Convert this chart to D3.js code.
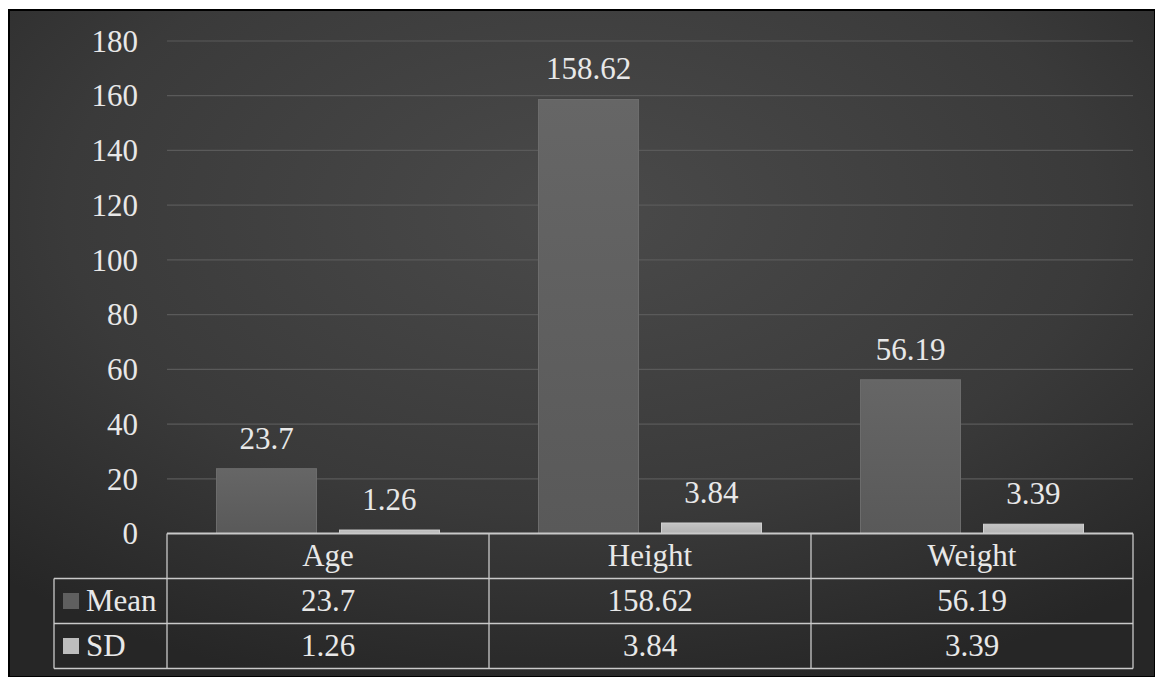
<!DOCTYPE html>
<html>
<head>
<meta charset="utf-8">
<script src="https://cdn.jsdelivr.net/npm/d3@7"></script>
<style>
  html, body { margin: 0; padding: 0; background: #ffffff; }
  svg { display: block; }
  text { font-family: "Liberation Serif", "Times New Roman", serif; }
</style>
</head>
<body>
<svg id="chart" width="1155" height="677"></svg>
<script>
// ---- data ----
const categories = ["Age", "Height", "Weight"];
const seriesNames = ["Mean", "SD"];
const meanValues = [23.7, 158.62, 56.19];
const sdValues = [1.26, 3.84, 3.39];
const yTicks = [0, 20, 40, 60, 80, 100, 120, 140, 160, 180];

const seriesValues = [meanValues, sdValues];

const W = 1155, H = 677;
const svg = d3.select("#chart");
const defs = svg.append("defs");

// background gradient
const bg = defs.append("radialGradient").attr("id", "bgGrad")
  .attr("cx", "50%").attr("cy", "30%").attr("r", "75%");
bg.append("stop").attr("offset", "0%").attr("stop-color", "#4a4a4a");
bg.append("stop").attr("offset", "60%").attr("stop-color", "#3a3a3a");
bg.append("stop").attr("offset", "100%").attr("stop-color", "#262626");

const meanGrad = defs.append("linearGradient").attr("id", "meanGrad")
  .attr("x1", 0).attr("y1", 0).attr("x2", 0).attr("y2", 1);
meanGrad.append("stop").attr("offset", "0%").attr("stop-color", "#666666");
meanGrad.append("stop").attr("offset", "100%").attr("stop-color", "#595959");

const sdGrad = defs.append("linearGradient").attr("id", "sdGrad")
  .attr("x1", 0).attr("y1", 0).attr("x2", 0).attr("y2", 1);
sdGrad.append("stop").attr("offset", "0%").attr("stop-color", "#c4c4c4");
sdGrad.append("stop").attr("offset", "100%").attr("stop-color", "#b2b2b2");

const barFills = ["url(#meanGrad)", "url(#sdGrad)"];
const swatchFills = ["#5f5f5f", "#bdbdbd"];

// frame
svg.append("rect").attr("x", 9).attr("y", 10).attr("width", W - 9).attr("height", H - 10)
  .attr("fill", "url(#bgGrad)").attr("stroke", "#000").attr("stroke-width", 2);

// scales
const x0 = d3.scaleBand().domain(categories).range([167, 1133]).padding(0);
const x1 = d3.scaleBand().domain(seriesNames).range([0, x0.bandwidth()])
  .paddingInner(0.187).paddingOuter(0.4025);
const y = d3.scaleLinear().domain([0, 180]).range([533.5, 41]);

const textColor = "#e8e8e8";
const fontSize = 31;

// gridlines
svg.append("g").selectAll("line").data(yTicks.filter(t => t > 0)).join("line")
  .attr("x1", 167).attr("x2", 1133)
  .attr("y1", d => y(d)).attr("y2", d => y(d))
  .attr("stroke", "#5a5a5a").attr("stroke-width", 1.2);

// y axis labels via d3 axis
const yAxis = d3.axisLeft(y).tickValues(yTicks).tickSize(0).tickPadding(0);
const yg = svg.append("g").attr("transform", "translate(138,0)").call(yAxis);
yg.select(".domain").remove();
yg.selectAll("text")
  .attr("fill", textColor).attr("font-size", fontSize)
  .attr("font-family", "Liberation Serif, Times New Roman, serif")
  .attr("dy", "0.33em");

// bars
const groups = svg.append("g").selectAll("g").data(categories).join("g")
  .attr("transform", d => `translate(${x0(d)},0)`);

groups.each(function(cat, ci) {
  const g = d3.select(this);
  seriesNames.forEach((s, si) => {
    const v = seriesValues[si][ci];
    g.append("rect")
      .attr("x", x1(s)).attr("width", x1.bandwidth())
      .attr("y", y(v)).attr("height", y(0) - y(v))
      .attr("fill", barFills[si])
      .attr("stroke", si === 0 ? "#6c6c6c" : "#cfcfcf").attr("stroke-width", 1);
    g.append("text")
      .attr("x", x1(s) + x1.bandwidth() / 2)
      .attr("y", y(v) - 20)
      .attr("text-anchor", "middle")
      .attr("fill", textColor).attr("font-size", fontSize)
      .text(String(v));
  });
});

// data table
const rowTop = 533.5, rowH = 45;
const legendLeft = 54;
const lineColor = "#c9c9c9";
const tg = svg.append("g");

// horizontal lines
tg.append("line").attr("x1", 167).attr("x2", 1133).attr("y1", rowTop).attr("y2", rowTop)
  .attr("stroke", lineColor).attr("stroke-width", 2);
[1, 2, 3].forEach(i => {
  tg.append("line").attr("x1", legendLeft).attr("x2", 1133)
    .attr("y1", rowTop + i * rowH).attr("y2", rowTop + i * rowH)
    .attr("stroke", lineColor).attr("stroke-width", 1.3);
});
// vertical lines
tg.append("line").attr("x1", legendLeft).attr("x2", legendLeft)
  .attr("y1", rowTop + rowH).attr("y2", rowTop + 3 * rowH)
  .attr("stroke", lineColor).attr("stroke-width", 1.3);
[...categories.map(c => x0(c)), 1133].forEach(xv => {
  tg.append("line").attr("x1", xv).attr("x2", xv)
    .attr("y1", rowTop).attr("y2", rowTop + 3 * rowH)
    .attr("stroke", lineColor).attr("stroke-width", 1.3);
});

// header
categories.forEach(c => {
  tg.append("text").attr("x", x0(c) + x0.bandwidth() / 2).attr("y", rowTop + rowH / 2)
    .attr("dy", "0.33em").attr("text-anchor", "middle")
    .attr("fill", textColor).attr("font-size", fontSize).text(c);
});

// rows
seriesNames.forEach((s, si) => {
  const cy = rowTop + (si + 1.5) * rowH;
  tg.append("rect").attr("x", 63).attr("y", cy - 8).attr("width", 16).attr("height", 16)
    .attr("fill", swatchFills[si]);
  tg.append("text").attr("x", 86).attr("y", cy).attr("dy", "0.33em")
    .attr("fill", textColor).attr("font-size", fontSize).text(s);
  categories.forEach((c, ci) => {
    tg.append("text").attr("x", x0(c) + x0.bandwidth() / 2).attr("y", cy)
      .attr("dy", "0.33em").attr("text-anchor", "middle")
      .attr("fill", textColor).attr("font-size", fontSize)
      .text(String(seriesValues[si][ci]));
  });
});
</script>
</body>
</html>
